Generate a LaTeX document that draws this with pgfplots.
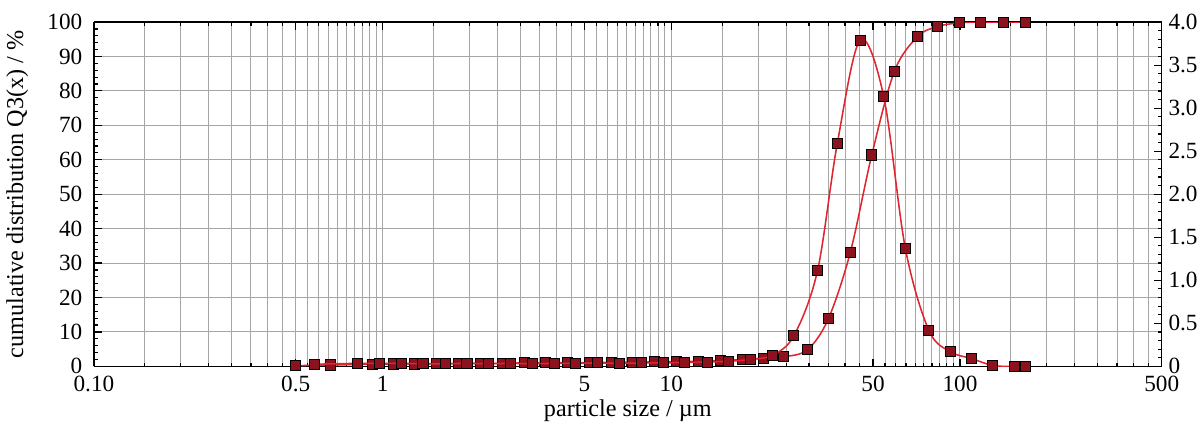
\documentclass[border=0pt]{standalone}
\usepackage{fontspec}
\setmainfont{Liberation Serif}
\usepackage{pgfplots}
\usepackage{pgfplotstable}
\pgfplotsset{compat=1.18}

\definecolor{curvered}{RGB}{222,38,48}
\definecolor{markred}{RGB}{140,18,30}

% cumulative distribution Q3(x) in %
\pgfplotstableread{
x     q
0.50  0.2
0.66  0.4
0.92  0.6
1.09  0.7
1.29  0.7
1.54  0.8
1.83  0.8
2.18  0.9
2.60  0.9
3.09  1.0
3.67  1.0
4.37  1.1
5.20  1.1
6.19  1.2
7.37  1.2
8.77  1.3
10.4  1.4
12.4  1.5
14.8  1.7
17.6  2.0
20.9  2.4
24.5  2.8
29.6  4.8
35.0  13.8
41.7  33.1
49.5  61.4
59.3  85.7
71.4  95.8
83.8  98.7
100   99.8
118   100
141   100
169   100
}\cumdata

% density distribution q3(x)
\pgfplotstableread{
x     q
0.58  0.025
0.82  0.035
0.977 0.035
1.16  0.035
1.38  0.03
1.65  0.03
1.96  0.035
2.33  0.03
2.77  0.035
3.30  0.03
3.93  0.035
4.67  0.035
5.56  0.04
6.62  0.035
7.87  0.04
9.37  0.04
11.1  0.045
13.3  0.05
15.8  0.06
18.8  0.08
22.4  0.13
26.6  0.357
32.1  1.11
37.6  2.59
45.1  3.79
54.4  3.14
64.7  1.37
78.0  0.42
92.7  0.17
110   0.09
130   0.01
155   0.0
169   0.0
}\densdata

\begin{document}
\begin{tikzpicture}
\begin{axis}[
  xmode=log, xmin=0.1, xmax=500,
  width=552pt, height=178pt, scale only axis,
  axis line style={line width=0.8pt},
  tick style={black, line width=0.6pt},
  major tick length=4pt, minor tick length=2pt,
  tick align=inside,
  /pgf/number format/assume math mode=true,
  tick label style={font=\fontsize{12}{14}\selectfont},
  label style={font=\fontsize{12.5}{14}\selectfont},
  xticklabel style={yshift=-1.5pt},
  yticklabel style={xshift=-2.5pt},
  ymin=0, ymax=100,
  axis y line*=left,
  ytick={0,10,...,100},
  minor y tick num=4,
  xtick={0.1,0.5,1,5,10,50,100,500},
  xticklabels={0.10,0.5,1,5,10,50,100,500},
  minor xtick={0.15,0.2,0.25,0.3,0.35,0.4,0.45,
    0.55,0.6,0.65,0.7,0.75,0.8,0.85,0.9,0.95,
    1.5,2,2.5,3,3.5,4,4.5,5.5,6,6.5,7,7.5,8,8.5,9,9.5,
    15,20,25,30,35,40,45,55,60,65,70,75,80,85,90,95,
    150,200,250,300,350,400,450},
  xmajorgrids, xminorgrids, ymajorgrids,
  major grid style={gray!70, line width=0.5pt},
  minor grid style={gray!70, line width=0.5pt},
  xlabel={particle size / µm},
  ylabel={cumulative distribution Q3(x) / \%},
  xlabel style={yshift=3pt},
  ylabel style={yshift=3pt},
]
\addplot[curvered, line width=0.8pt, smooth, tension=0.55,
  mark=square*, mark size=2.6pt,
  mark options={fill=markred, draw=black, line width=0.5pt, solid}]
  table[x=x, y=q] {\cumdata};
\end{axis}
\begin{axis}[
  xmode=log, xmin=0.1, xmax=500,
  width=552pt, height=178pt, scale only axis,
  axis line style={line width=0.8pt},
  tick style={black, line width=0.6pt},
  major tick length=4pt, minor tick length=2pt,
  tick align=inside,
  /pgf/number format/assume math mode=true,
  tick label style={font=\fontsize{12}{14}\selectfont},
  ymin=0, ymax=4,
  axis y line*=right,
  axis x line=none,
  ytick={0,0.5,...,4},
  yticklabels={0,0.5,1.0,1.5,2.0,2.5,3.0,3.5,4.0},
  minor y tick num=4,
]
\addplot[curvered, line width=0.8pt, smooth, tension=0.55,
  mark=square*, mark size=2.6pt,
  mark options={fill=markred, draw=black, line width=0.5pt, solid}]
  table[x=x, y=q] {\densdata};
\end{axis}
\path (current bounding box.north) ++(0,4pt);
\path (current bounding box.south) ++(0,-9pt);
\end{tikzpicture}
\end{document}
